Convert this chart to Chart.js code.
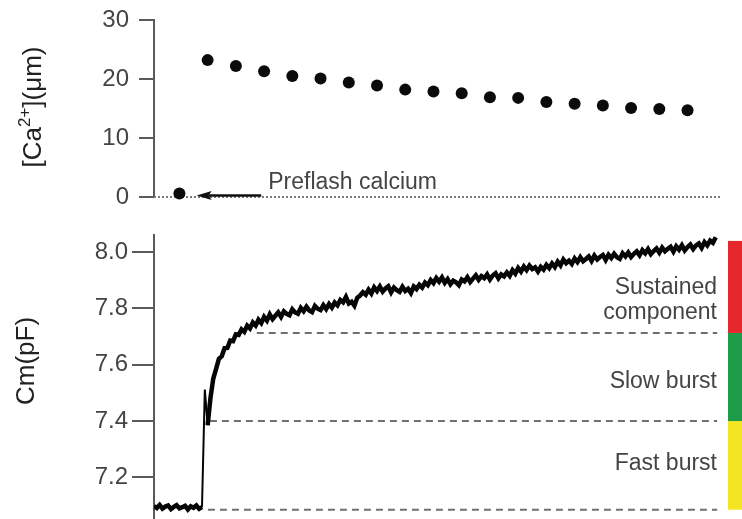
<!DOCTYPE html>
<html>
<head>
<meta charset="utf-8">
<script src="https://cdn.jsdelivr.net/npm/chart.js@4.4.1/dist/chart.umd.min.js"></script>
<style>
  html, body { margin: 0; padding: 0; background: #fff; }
  #wrap { position: relative; width: 742px; height: 519px; overflow: hidden; }
  #wrap canvas { position: absolute; left: 0; }
  #caChart { top: 0; }
  #cmChart { top: 225px; }
</style>
</head>
<body>
<div id="wrap">
  <canvas id="caChart" width="742" height="225"></canvas>
  <canvas id="cmChart" width="742" height="294"></canvas>
</div>
<script>
// Calcium after the flash, one reading per time step (index 0 = preflash)
const caTime = [0, 1, 2, 3, 4, 5, 6, 7, 8, 9, 10, 11, 12, 13, 14, 15, 16, 17, 18];
const caConc = [0.6, 23.2, 22.2, 21.3, 20.5, 20.1, 19.4, 18.9, 18.2, 17.9,
                17.6, 16.9, 16.8, 16.1, 15.8, 15.5, 15.1, 14.9, 14.7];
const caTicks = [0, 10, 20, 30];

// Membrane capacitance trace, sampled every 0.1 time units
const traceStart = -0.9;
const traceStep = 0.1;
const cmTrace = [
  7.098, 7.091, 7.102, 7.089, 7.096, 7.100, 7.087, 7.095, 7.101, 7.090,
  7.094, 7.099, 7.086, 7.097, 7.092, 7.100, 7.088, 7.094, 7.512, 7.385,
  7.482, 7.551, 7.585, 7.621, 7.630, 7.659, 7.660, 7.686, 7.684, 7.708,
  7.706, 7.726, 7.717, 7.739, 7.729, 7.750, 7.739, 7.760, 7.748, 7.770,
  7.757, 7.779, 7.762, 7.774, 7.786, 7.770, 7.790, 7.781, 7.776, 7.797,
  7.786, 7.781, 7.802, 7.790, 7.806, 7.793, 7.787, 7.809, 7.799, 7.794,
  7.812, 7.798, 7.816, 7.803, 7.821, 7.811, 7.830, 7.822, 7.841, 7.818,
  7.824, 7.810, 7.838, 7.846, 7.858, 7.849, 7.867, 7.853, 7.875, 7.862,
  7.878, 7.860, 7.871, 7.879, 7.857, 7.874, 7.865, 7.859, 7.877, 7.862,
  7.870, 7.855, 7.878, 7.869, 7.884, 7.874, 7.892, 7.883, 7.901, 7.890,
  7.908, 7.895, 7.910, 7.891, 7.904, 7.886, 7.899, 7.893, 7.883, 7.903,
  7.896, 7.911, 7.894, 7.906, 7.918, 7.902, 7.915, 7.908, 7.921, 7.903,
  7.917, 7.925, 7.907, 7.921, 7.914, 7.928, 7.916, 7.936, 7.924, 7.944,
  7.931, 7.949, 7.936, 7.952, 7.940, 7.946, 7.931, 7.948, 7.938, 7.955,
  7.943, 7.960, 7.947, 7.966, 7.953, 7.974, 7.961, 7.970, 7.958, 7.978,
  7.965, 7.982, 7.968, 7.976, 7.985, 7.969, 7.988, 7.974, 7.983, 7.990,
  7.972, 7.991, 7.979, 7.994, 7.982, 7.976, 7.996, 7.985, 7.999, 7.983,
  7.994, 8.003, 7.989, 8.007, 7.996, 8.011, 7.993, 8.004, 8.013, 7.998,
  8.016, 8.003, 8.012, 8.019, 8.002, 8.021, 8.009, 8.025, 8.006, 8.018,
  8.027, 8.011, 8.024, 8.031, 8.015, 8.036, 8.024, 8.041, 8.033, 8.053
];
const cmTicks = [7.2, 7.4, 7.6, 7.8, 8.0];
// samples around the flash artefact (drawn as a thin spike)
const flashSpike = [17, 18];

// Release components: boundaries (pF) and where each dashed level starts
const componentLevels = [7.085, 7.4, 7.713];
const componentStart = [1.01, 1.08, 2.74];
const componentTop = 8.04;
const componentNames = ['Fast burst', 'Slow burst', 'Sustained component'];

const xMin = -0.9, xMax = 19.15, levelEnd = 19.05;

const FONT = "'Liberation Sans', Arial, Helvetica, sans-serif";
const AXIS = '#5a5a5a';
const TEXT = '#444';

// keep both plots on the same left edge, no extra room for end labels
function fixedWidth(scale) {
  scale.width = 154;
  scale.paddingTop = 0;
  scale.paddingBottom = 0;
}

// Rotated axis title with an optional superscript part
function drawTitle(ctx, cx, cy, parts) {
  ctx.save();
  ctx.translate(cx, cy);
  ctx.rotate(-Math.PI / 2);
  ctx.fillStyle = '#222';
  ctx.textBaseline = 'alphabetic';
  let total = 0;
  parts.forEach(p => {
    ctx.font = (p.sup ? 17 : 26) + 'px ' + FONT;
    p.w = ctx.measureText(p.t).width;
    total += p.w;
  });
  let x = -total / 2;
  parts.forEach(p => {
    ctx.font = (p.sup ? 17 : 26) + 'px ' + FONT;
    ctx.fillText(p.t, x, p.sup ? -11 : 0);
    x += p.w;
  });
  ctx.restore();
}

const caDecor = {
  id: 'caDecor',
  afterDraw(chart) {
    const ctx = chart.ctx;
    const xs = chart.scales.x, ys = chart.scales.y;
    drawTitle(ctx, 41, 107, [{t: '[Ca'}, {t: '2+', sup: true}, {t: '](\u03bcm)'}]);

    // arrow pointing at the preflash reading
    const y0 = ys.getPixelForValue(0) - 1.5;
    const tip = xs.getPixelForValue(0.61);
    const tail = xs.getPixelForValue(2.9);
    ctx.save();
    ctx.strokeStyle = '#111';
    ctx.fillStyle = '#111';
    ctx.lineWidth = 2.5;
    ctx.beginPath();
    ctx.moveTo(tail, y0);
    ctx.lineTo(tip + 12, y0);
    ctx.stroke();
    ctx.beginPath();
    ctx.moveTo(tip, y0);
    ctx.lineTo(tip + 15, y0 - 4.5);
    ctx.lineTo(tip + 12, y0);
    ctx.lineTo(tip + 15, y0 + 4.5);
    ctx.closePath();
    ctx.fill();
    ctx.fillStyle = TEXT;
    ctx.font = '23px ' + FONT;
    ctx.textAlign = 'left';
    ctx.fillText('Preflash calcium', tail + 7, y0 - 7);
    ctx.restore();
  }
};

const cmDecor = {
  id: 'cmDecor',
  afterDraw(chart) {
    const ctx = chart.ctx;
    const ys = chart.scales.y;
    drawTitle(ctx, 34, 136, [{t: 'Cm(pF)'}]);

    // colour key for the three components
    const bounds = componentLevels.concat([componentTop]);
    const colors = ['#f3e424', '#1f9c4a', '#e5262b'];
    ctx.save();
    for (let i = 0; i < 3; i++) {
      const yb = ys.getPixelForValue(bounds[i]);
      const yt = ys.getPixelForValue(bounds[i + 1]);
      ctx.fillStyle = colors[i];
      ctx.fillRect(728, yt, 14, yb - yt);
    }
    ctx.fillStyle = TEXT;
    ctx.font = '23px ' + FONT;
    ctx.textAlign = 'right';
    ctx.textBaseline = 'alphabetic';
    const right = chart.chartArea.right - 3;
    ctx.fillText(componentNames[0], right, ys.getPixelForValue(7.227));
    ctx.fillText(componentNames[1], right, ys.getPixelForValue(7.518));
    const words = componentNames[2].split(' ');
    ctx.fillText(words[0], right, ys.getPixelForValue(7.852));
    ctx.fillText(words[1], right, ys.getPixelForValue(7.763));
    ctx.restore();
  }
};

function yAxis(min, max, ticks, tickLength, padding) {
  return {
    min: min,
    max: max,
    afterFit: fixedWidth,
    afterBuildTicks: axis => { axis.ticks = ticks.map(v => ({value: v})); },
    grid: {
      drawOnChartArea: false,
      drawTicks: true,
      tickLength: tickLength,
      color: AXIS,
      lineWidth: 2
    },
    border: { display: true, color: AXIS, width: 2 },
    ticks: {
      color: TEXT,
      padding: padding,
      font: { family: FONT, size: 24 },
      callback: v => (max < 10 ? v.toFixed(1) : String(v))
    }
  };
}

const xAxis = { type: 'linear', min: xMin, max: xMax, display: false };

new Chart(document.getElementById('caChart'), {
  type: 'scatter',
  data: {
    datasets: [
      {
        data: caTime.map((t, i) => ({x: t, y: caConc[i]})),
        backgroundColor: '#0b0b0b',
        borderWidth: 0,
        pointRadius: 6,
        clip: false
      },
      {
        type: 'line',
        data: [{x: xMin, y: 0}, {x: xMax, y: 0}],
        borderColor: '#7a7a7a',
        borderWidth: 2,
        borderDash: [2, 2],
        pointRadius: 0,
        clip: false
      }
    ]
  },
  options: {
    responsive: false,
    animation: false,
    layout: { padding: { left: 0, right: 22, top: 20, bottom: 28 } },
    plugins: { legend: { display: false }, tooltip: { enabled: false } },
    scales: { x: xAxis, y: yAxis(0, 30, caTicks, 15, 10) }
  },
  plugins: [caDecor]
});

const traceData = cmTrace.map((v, i) => ({x: traceStart + i * traceStep, y: v}));
const levelSets = componentLevels.map((lv, i) => ({
  data: [{x: componentStart[i], y: lv}, {x: levelEnd, y: lv}],
  borderColor: '#707070',
  borderWidth: 2,
  borderDash: [7, 5],
  pointRadius: 0
}));

new Chart(document.getElementById('cmChart'), {
  type: 'line',
  data: {
    datasets: [
      {
        data: traceData,
        borderColor: '#050505',
        borderWidth: 4.5,
        pointRadius: 0,
        tension: 0,
        segment: {
          borderWidth: c => (flashSpike.includes(c.p0DataIndex) ? 2 : undefined)
        }
      }
    ].concat(levelSets)
  },
  options: {
    responsive: false,
    animation: false,
    layout: { padding: { left: 0, right: 22, top: 10, bottom: 0 } },
    plugins: { legend: { display: false }, tooltip: { enabled: false } },
    scales: { x: xAxis, y: yAxis(7.052, 8.061, cmTicks, 22, 4) }
  },
  plugins: [cmDecor]
});
</script>
</body>
</html>
